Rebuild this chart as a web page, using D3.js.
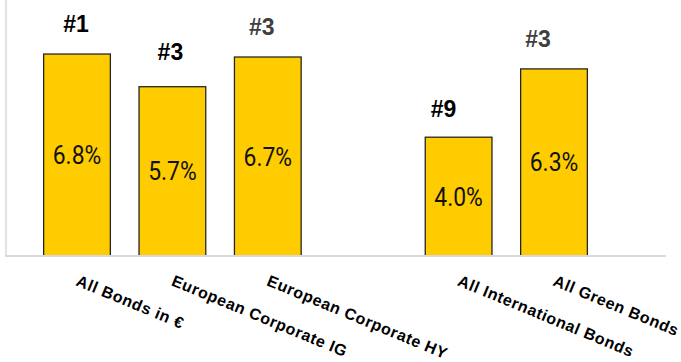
<!DOCTYPE html>
<html>
<head>
<meta charset="utf-8">
<script src="https://cdn.jsdelivr.net/npm/d3@7"></script>
<style>
  html, body { margin: 0; padding: 0; background: #ffffff; }
  svg { display: block; }
</style>
</head>
<body>
<svg id="chart" width="681" height="362"></svg>
<script>
// ---- data ----
const categories = ["All Bonds in €", "European Corporate IG", "European Corporate HY", "", "All International Bonds", "All Green Bonds"];
const values     = [6.8, 5.7, 6.7, null, 4.0, 6.3];
const valueLabels = ["6.8%", "5.7%", "6.7%", "", "4.0%", "6.3%"];
const rankLabels  = ["#1", "#3", "#3", "", "#9", "#3"];
const rankColors  = ["#000000", "#000000", "#404040", "", "#000000", "#404040"];

// ---- layout (not data) ----
const rankDx = [-1, -2, -6, 0, -15, -16];
const rankDy = [-22, -27, -22.5, 0, -20, -22];

const svg = d3.select("#chart");
const baseY = 256;

const x = d3.scaleBand()
  .domain(d3.range(categories.length))
  .range([29.3, 601.7])
  .paddingInner(0.287)
  .paddingOuter(0.1435);

const y = d3.scaleLinear().domain([0, 8]).range([baseY, baseY - 8 * 29.7]);

// axes lines
svg.append("line")
  .attr("x1", 6).attr("x2", 6).attr("y1", 0).attr("y2", baseY)
  .attr("stroke", "#d9d9d9").attr("stroke-width", 1.5);

const rows = categories.map((c, i) => ({ c, i, v: values[i], vl: valueLabels[i], r: rankLabels[i], rc: rankColors[i] }))
  .filter(d => d.v !== null);

// bars
svg.selectAll("rect.bar").data(rows).enter().append("rect")
  .attr("class", "bar")
  .attr("x", d => x(d.i) + 0.65)
  .attr("width", x.bandwidth() - 1.3)
  .attr("y", d => y(d.v))
  .attr("height", d => y(0) - y(d.v))
  .attr("fill", "#ffcc00")
  .attr("stroke", "#262626")
  .attr("stroke-width", 1.3);

// baseline
svg.append("line")
  .attr("x1", 5).attr("x2", 666).attr("y1", baseY).attr("y2", baseY)
  .attr("stroke", "#d9d9d9").attr("stroke-width", 2);

// value labels
svg.selectAll("text.val").data(rows).enter().append("text")
  .attr("class", "val")
  .attr("transform", d => `translate(${x(d.i) + x.bandwidth() / 2},${(y(d.v) + y(0)) / 2}) scale(0.88,1)`)
  .attr("text-anchor", "middle")
  .attr("dominant-baseline", "central")
  .attr("font-family", "Roboto, sans-serif")
  .attr("font-size", 26)
  .attr("fill", "#111")
  .text(d => d.vl);

// rank labels
svg.selectAll("text.rank").data(rows).enter().append("text")
  .attr("class", "rank")
  .attr("x", d => x(d.i) + x.bandwidth() / 2 + rankDx[d.i])
  .attr("y", d => y(d.v) + rankDy[d.i])
  .attr("text-anchor", "middle")
  .attr("font-family", "'Liberation Sans', Arial, sans-serif")
  .attr("font-weight", "bold")
  .attr("font-size", 23)
  .attr("fill", d => d.rc)
  .text(d => d.r);

// category labels
svg.selectAll("text.cat").data(rows).enter().append("text")
  .attr("class", "cat")
  .attr("transform", d => `translate(${x(d.i) + x.bandwidth() / 2 - 2},285) rotate(22.5)`)
  .attr("text-anchor", "start")
  .attr("font-family", "'Liberation Sans', Arial, sans-serif")
  .attr("font-weight", "bold")
  .attr("font-size", 16)
  .attr("letter-spacing", 0.6)
  .attr("fill", "#000")
  .text(d => d.c);
</script>
</body>
</html>
